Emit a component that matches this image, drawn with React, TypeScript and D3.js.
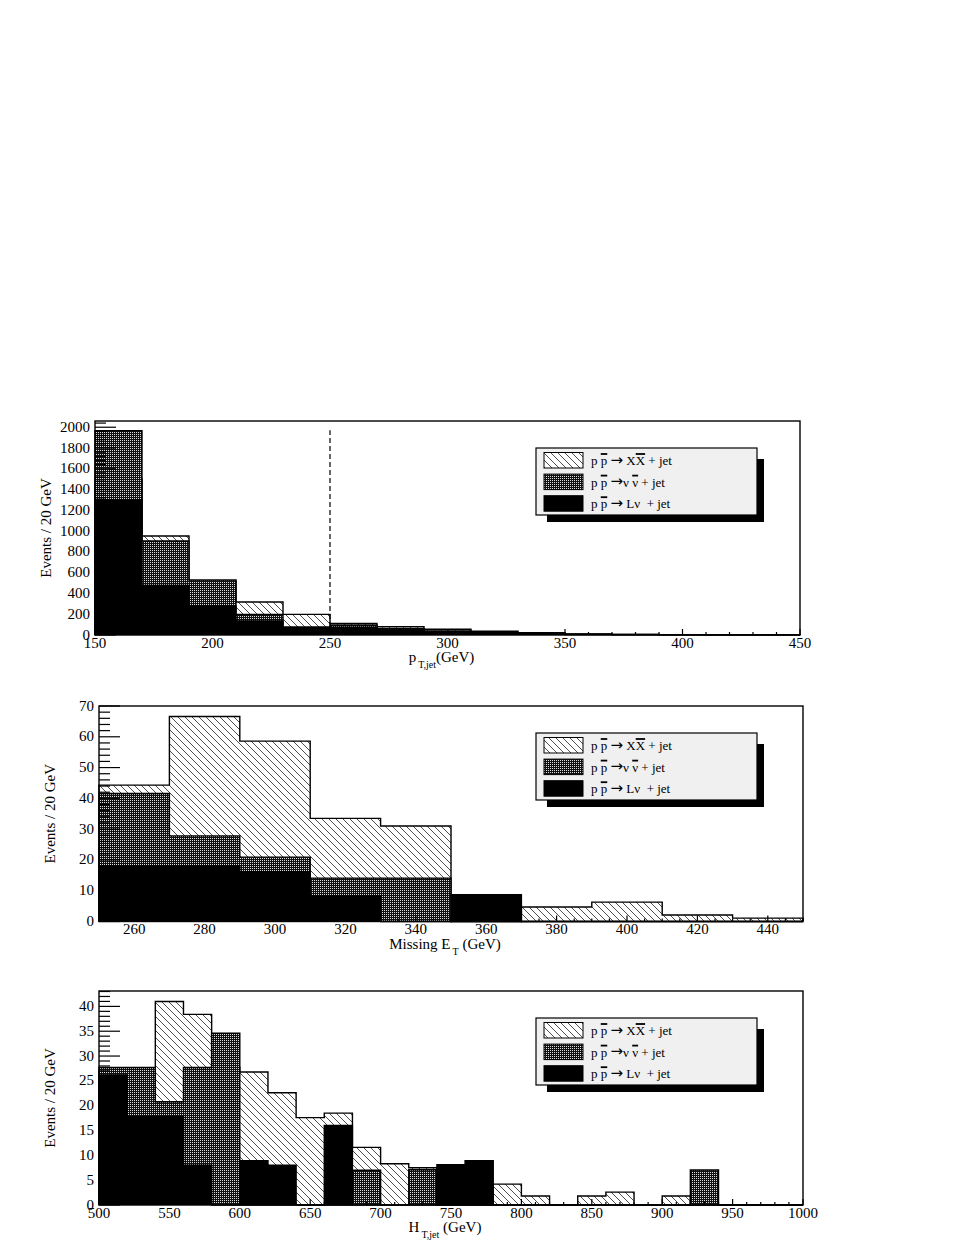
import React, { useEffect, useRef } from 'react';
import * as d3 from 'd3';

// all three histograms use 20 GeV bins
const binWidth = 20;

// p_T,jet panel (bins start at 150 GeV)
const ptStart = 150;
const ptXX = [1500, 953, 520, 318, 199, 112, 80, 55, 36, 22, 10, 6, 4, 3, 2];
const ptNuNu = [1967, 905, 530, 199, 70, 96, 60, 40, 26, 15, 8, 5, 3, 2, 1];
const ptLNu = [1300, 478, 279, 135, 77, 74, 42, 30, 20, 10, 5, 3, 2, 1, 1];
const ptCut = 250;
const ptCutTop = 1970;

// missing E_T panel (bins start at 250 GeV)
const metStart = 250;
const metXX = [44.3, 66.6, 58.6, 33.5, 31, 0, 4.7, 6.3, 2.1, 1.1];
const metNuNu = [41.6, 27.8, 20.9, 14.1, 14.1, 0, 0, 0, 0, 0];
const metLNu = [18, 18, 16.2, 8.3, 0, 8.7, 0, 0, 0, 0];

// H_T,jet panel (bins start at 500 GeV)
const htStart = 500;
const htXX = [27, 21.8, 41, 38.4, 27.7, 26.8, 22.6, 17.6, 18.5, 11.6, 8.3, 7.5, 0, 0, 4.2, 1.8, 0, 1.8, 2.6, 0, 1.8, 0, 0, 0, 0];
const htNuNu = [27.7, 27.7, 20.8, 27.7, 34.6, 0, 0, 0, 0, 7, 0, 7.1, 0, 0, 0, 0, 0, 0, 0, 0, 0, 7.05, 0, 0, 0];
const htLNu = [26.2, 17.8, 17.8, 8, 0, 8.9, 8, 0, 16, 0, 0, 0, 8.1, 8.9, 0, 0, 0, 0, 0, 0, 0, 0, 0, 0, 0];

const yTitle = 'Events / 20 GeV';

// legend rows: [text, kind] where kind 1 = overlined, 2 = arrow glyph
const legendRows = [
  { fill: 'url(#hatch)', parts: [['p ', 0], ['p', 1], [' ', 0], ['\u2192', 2], [' X', 0], ['X', 1], [' + jet', 0]] },
  { fill: 'url(#dots)', parts: [['p ', 0], ['p', 1], [' ', 0], ['\u2192', 2], ['\u03bd ', 0], ['\u03bd', 1], [' + jet', 0]] },
  { fill: '#000', parts: [['p ', 0], ['p', 1], [' ', 0], ['\u2192', 2], [' L\u03bd  + jet', 0]] },
];

const panels = [
  {
    frame: { x0: 95, x1: 800, y0: 421, y1: 635 },
    xDomain: [150, 450], yMax: 2060,
    xMajor: 50, xMinor: 10, yMajor: 200, yMinor: 40,
    start: ptStart, xx: ptXX, nn: ptNuNu, ln: ptLNu,
    title: [['p', 0], ['T,jet', 1], ['(GeV)', 0]],
    cut: true,
  },
  {
    frame: { x0: 99, x1: 803, y0: 706, y1: 921.5 },
    xDomain: [250, 450], yMax: 70,
    xMajor: 20, xMinor: 5, yMajor: 10, yMinor: 2,
    start: metStart, xx: metXX, nn: metNuNu, ln: metLNu,
    title: [['Missing E', 0], ['T', 1], [' (GeV)', 0]],
    cut: false,
  },
  {
    frame: { x0: 99, x1: 803, y0: 991, y1: 1205 },
    xDomain: [500, 1000], yMax: 43.1,
    xMajor: 50, xMinor: 10, yMajor: 5, yMinor: 1,
    start: htStart, xx: htXX, nn: htNuNu, ln: htLNu,
    title: [['H', 0], ['T,jet', 1], [' (GeV)', 0]],
    cut: false,
  },
];

const font = 'Liberation Serif, Times New Roman, serif';

const App = () => {
  const svgRef = useRef(null);

  useEffect(() => {
    const svg = d3.select(svgRef.current);
    svg.selectAll('*').remove();

    const defs = svg.append('defs');
    const hatch = defs.append('pattern')
      .attr('id', 'hatch').attr('patternUnits', 'userSpaceOnUse')
      .attr('width', 7).attr('height', 7);
    hatch.append('path')
      .attr('d', 'M0,0L7,7M-1,6L1,8M6,-1L8,1')
      .attr('stroke', '#222').attr('stroke-width', 0.8);
    const dots = defs.append('pattern')
      .attr('id', 'dots').attr('patternUnits', 'userSpaceOnUse')
      .attr('width', 2).attr('height', 2);
    dots.append('rect').attr('width', 2).attr('height', 2).attr('fill', '#111');
    dots.append('rect').attr('width', 1).attr('height', 1).attr('fill', '#ddd');

    panels.forEach((p) => {
      const f = p.frame;
      const g = svg.append('g');
      const x = d3.scaleLinear().domain(p.xDomain).range([f.x0, f.x1]);
      const y = d3.scaleLinear().domain([0, p.yMax]).range([f.y1, f.y0]);

      const step = (vals, close) => {
        let d = `M${x(p.start)},${y(0)}`;
        vals.forEach((v, i) => {
          d += `V${y(v)}H${x(p.start + (i + 1) * binWidth)}`;
        });
        d += `V${y(0)}`;
        return close ? d + 'Z' : d;
      };

      [[p.xx, 'url(#hatch)'], [p.nn, 'url(#dots)'], [p.ln, '#000']].forEach(([vals, fill]) => {
        g.append('path').attr('d', step(vals, true)).attr('fill', fill).attr('stroke', 'none');
        g.append('path').attr('d', step(vals, false)).attr('fill', 'none')
          .attr('stroke', '#000').attr('stroke-width', 1.4);
      });

      if (p.cut) {
        g.append('line')
          .attr('x1', x(ptCut)).attr('x2', x(ptCut))
          .attr('y1', y(0)).attr('y2', y(ptCutTop))
          .attr('stroke', '#000').attr('stroke-width', 1.2)
          .attr('stroke-dasharray', '5,3');
      }

      // y ticks (inside, from the left edge)
      const yt = d3.range(0, p.yMax + 1e-6, p.yMinor);
      yt.forEach((v) => {
        const major = Math.abs(v / p.yMajor - Math.round(v / p.yMajor)) < 1e-6;
        g.append('line')
          .attr('x1', f.x0).attr('x2', f.x0 + (major ? 21 : 11))
          .attr('y1', y(v)).attr('y2', y(v))
          .attr('stroke', '#000').attr('stroke-width', 1.2);
        if (major) {
          g.append('text')
            .attr('x', f.x0 - 5).attr('y', y(v) + 4.5)
            .attr('text-anchor', 'end')
            .attr('font-family', font).attr('font-size', 15)
            .text(d3.format('d')(v));
        }
      });

      // x ticks (inside, from the bottom edge)
      const xt = d3.range(p.xDomain[0], p.xDomain[1] + 1e-6, p.xMinor);
      xt.forEach((v) => {
        const major = v % p.xMajor === 0;
        g.append('line')
          .attr('x1', x(v)).attr('x2', x(v))
          .attr('y1', f.y1).attr('y2', f.y1 - (major ? 6 : 3))
          .attr('stroke', '#000').attr('stroke-width', 1.2);
        if (major) {
          g.append('text')
            .attr('x', x(v)).attr('y', f.y1 + 12.5)
            .attr('text-anchor', 'middle')
            .attr('font-family', font).attr('font-size', 15)
            .text(v);
        }
      });

      // frame
      g.append('rect')
        .attr('x', f.x0).attr('y', f.y0)
        .attr('width', f.x1 - f.x0).attr('height', f.y1 - f.y0)
        .attr('fill', 'none').attr('stroke', '#000').attr('stroke-width', 1.4);

      // axis titles
      const xtitle = g.append('text')
        .attr('x', (f.x0 + f.x1) / 2 - 6).attr('y', f.y1 + 27)
        .attr('text-anchor', 'middle')
        .attr('font-family', font).attr('font-size', 15)
        .style('white-space', 'pre');
      p.title.forEach(([t, sub], i) => {
        xtitle.append('tspan')
          .attr('dy', sub ? 6 : (i === 0 ? 0 : -6))
          .attr('font-size', sub ? 10 : 15)
          .attr('dx', sub ? 2 : 0)
          .text(t);
      });

      g.append('text')
        .attr('transform', `translate(${f.x0 - 44},${(f.y0 + f.y1) / 2}) rotate(-90)`)
        .attr('text-anchor', 'middle')
        .attr('font-family', font).attr('font-size', 15)
        .text(yTitle);

      // legend
      const bx = 536, by = f.y0 + 27, bw = 221, bh = 67;
      g.append('rect')
        .attr('x', bx + 11).attr('y', by + 11)
        .attr('width', bw - 4).attr('height', bh - 4)
        .attr('fill', '#000');
      g.append('rect')
        .attr('x', bx).attr('y', by).attr('width', bw).attr('height', bh)
        .attr('fill', '#f0f0f0').attr('stroke', '#000').attr('stroke-width', 1.2);
      legendRows.forEach((row, i) => {
        const ry = by + 4.5 + i * 21.6;
        if (row.fill === 'url(#hatch)') {
          g.append('rect').attr('x', bx + 8).attr('y', ry).attr('width', 39).attr('height', 15.5)
            .attr('fill', '#fff');
        }
        g.append('rect').attr('x', bx + 8).attr('y', ry).attr('width', 39).attr('height', 15.5)
          .attr('fill', row.fill).attr('stroke', '#000').attr('stroke-width', 1);
        let tx = bx + 55;
        const base = ry + 12.5;
        row.parts.forEach(([t, kind]) => {
          const el = g.append('text')
            .attr('x', tx).attr('y', base)
            .attr('font-family', kind === 2 ? 'DejaVu Sans, sans-serif' : font)
            .attr('font-size', kind === 2 ? 15 : 13)
            .attr('transform', kind === 2 ? `translate(0,-0.5)` : null)
            .style('white-space', 'pre')
            .text(t);
          const len = el.node().getComputedTextLength();
          if (kind === 1) {
            g.append('line')
              .attr('x1', tx).attr('x2', tx + len)
              .attr('y1', base - 11).attr('y2', base - 11)
              .attr('stroke', '#000').attr('stroke-width', 1.8);
          }
          tx += len;
        });
      });
    });
  }, []);

  return (
    <svg
      ref={svgRef}
      width={969}
      height={1254}
      style={{ position: 'absolute', left: 0, top: 0, background: '#fff' }}
    />
  );
};

export default App;
